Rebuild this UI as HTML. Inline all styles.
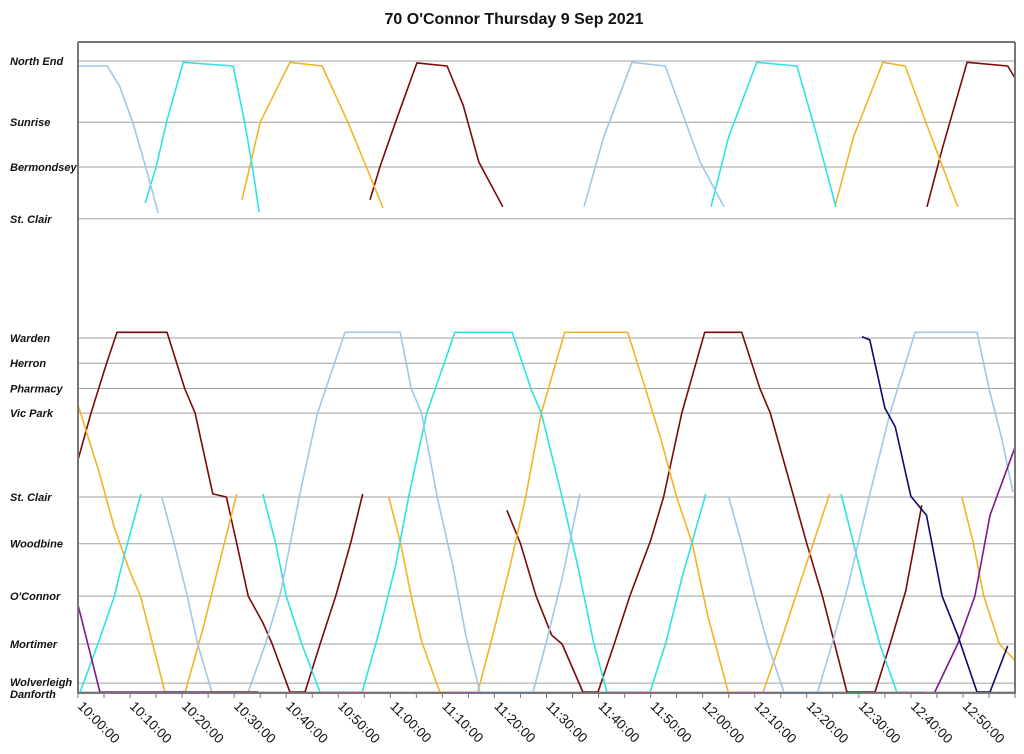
<!DOCTYPE html>
<html><head><meta charset="utf-8"><style>
html,body{margin:0;padding:0;background:#fff;}
svg{display:block;font-family:"Liberation Sans",Arial,sans-serif;}
</style></head><body>
<svg id="chart" width="1024" height="754" viewBox="0 0 1024 754">
<text x="514" y="24" text-anchor="middle" font-size="16" font-weight="bold" fill="#111">70 O'Connor Thursday 9 Sep 2021</text>
<g id="grid"></g>
<g id="ylabels"></g>
<g id="series"></g>
<g id="axes"></g>
<g id="xlabels"></g>
</svg>
<script>
const stationNames = ["North End","Sunrise","Bermondsey","St. Clair","Warden","Herron","Pharmacy","Vic Park","St. Clair","Woodbine","O'Connor","Mortimer","Wolverleigh","Danforth"];
const stationDist = [100,90.3,83.2,75.0,56.1,52.1,48.1,44.2,30.9,23.5,15.2,7.6,1.4,0];
const xTickLabels = ["10:00:00","10:10:00","10:20:00","10:30:00","10:40:00","10:50:00","11:00:00","11:10:00","11:20:00","11:30:00","11:40:00","11:50:00","12:00:00","12:10:00","12:20:00","12:30:00","12:40:00","12:50:00"];
// trips: [minutes after 10:00, distance]
const darkredTrips = [
 [[0,36.8],[2.5,44.2],[5.5,52.1],[7.5,57],[17.1,57],[20.5,48.1],[22.5,44.2],[25.9,31.4],[28.5,30.9],[30.5,23.5],[32.7,15.2],[35.5,11],[37.3,7.6],[40.7,0],[43.6,0],[46.5,7.6],[49.5,15.2],[52.5,24],[54.7,31.4]],
 [[56.1,78],[58,83.2],[61,90.3],[65.1,99.7],[70.9,99.2],[74,93],[77,84],[81.6,76.9]],
 [[82.4,28.8],[85,23.5],[88,15.2],[91,9],[93,7.6],[97.0,0],[99.9,0],[103,7.6],[106,15.2],[110,24],[112.5,30.9],[116,44.2],[120.4,57],[127.5,57],[131,48.1],[133,44.2],[137.5,30.9],[140,23.5],[143,15.2],[147.7,0],[153.1,0],[156,7.6],[159,16],[162.1,29.6]],
 [[163.1,76.9],[166,86],[170.8,99.8],[178.6,99.2],[180,97.3]]
];
const yellowTrips = [
 [[0,45.5],[4,35],[7,26],[10,19],[12,15.2],[16.7,0],[20.6,0],[24,10],[27,20],[30.5,31.4]],
 [[31.5,78],[35,90.3],[40.7,99.8],[46.9,99.2],[52,90],[55,84],[58.6,76.7]],
 [[59.7,30.9],[62,23.5],[64,15.2],[66,8],[69.5,0],[76.8,0],[80,10],[83,20],[86,30.9],[89,44.2],[93.5,57],[105.6,57],[109,48.1],[112,40],[115,30.9],[118,23.5],[121,12],[124.9,0],[131.6,0],[135,8],[139,18],[144.4,31.4]],
 [[145.4,76.9],[149,88],[154.6,99.8],[158.9,99.2],[163,90],[169.0,76.9]],
 [[169.8,30.9],[172,23.5],[174,15.2],[177,7.6],[180,5]]
];
const cyanTrips = [
 [[0.4,0],[4,8],[7,15.2],[9,22],[12.1,31.4]],
 [[12.9,77.5],[15,83.2],[17,90.3],[20.2,99.8],[29.8,99.2],[32,90.3],[33.5,83.2],[34.8,76]],
 [[35.5,31.4],[38,23.5],[40,15.2],[43,7.6],[46.5,0],[54.6,0],[58,10],[61,20],[63.5,30.9],[67,44.2],[72.4,57],[83.4,57],[87,48.1],[89,44.2],[93,30.9],[96,20],[99,8],[101.6,0],[109.9,0],[113,8],[116,18],[120.6,31.4]],
 [[121.6,76.9],[125,88],[130.4,99.8],[138.1,99.2],[142,88],[145.6,76.9]],
 [[146.6,31.4],[149,23.5],[151.5,15.2],[154,7.6],[157.3,0],[162.7,0]]
];
const lightblueTrips = [
 [[0,99.2],[5.6,99.2],[8,96],[10.5,90.3],[13,83.2],[15.4,75.9]],
 [[16.1,30.9],[18.5,23.5],[21,15.2],[23,7.6],[25.7,0],[32.7,0],[36,7.6],[39,16],[42.5,30.9],[46,44.2],[51.3,57],[61.9,57],[64,48.1],[66,44.2],[69,30.9],[72,20],[74.5,9],[77.2,0],[87.4,0],[90,8],[93,18],[96.4,31.4]],
 [[97.2,76.9],[101,88],[106.4,99.8],[112.8,99.2],[116,92],[119.5,84],[124.1,76.9]],
 [[125.0,30.9],[127.5,23.5],[130,15.2],[132.5,7.6],[135.6,0],[142.1,0],[145,8],[148,17],[152,31],[156,44.2],[160.8,57],[172.7,57],[175,48.1],[177.5,40],[179.6,31.7]]
];
const purpleTrips = [
 [[0,13.8],[4.2,0],[34.6,0]],
 [[164.6,0],[169.0,7.6],[172.3,15.2],[175.2,28],[180,38.8]]
];
const navyTrips = [
 [[150.6,56.3],[152.1,55.8],[155,45],[157,42],[160.0,31.0],[163,28],[166,15.2],[169,9],[172.7,0],[175.2,0],[178.6,7.3]]
];
const seriesList = [
 {name:"darkred", color:"#7a0a0a", trips:darkredTrips},
 {name:"yellow", color:"#f2b424", trips:yellowTrips},
 {name:"cyan", color:"#2fe3e3", trips:cyanTrips},
 {name:"lightblue", color:"#9fc7ea", trips:lightblueTrips},
 {name:"purple", color:"#7b1a8c", trips:purpleTrips},
 {name:"navy", color:"#0b0b6b", trips:navyTrips}
];
const NS="http://www.w3.org/2000/svg";
const X0=78,X1=1015,Y0=42,YB=692;
function xs(t){return X0+t*(X1-X0)/180;}
function ys(d){return YB-d*6.31;}
function mk(tag,attrs,parent){const e=document.createElementNS(NS,tag);for(const k in attrs)e.setAttribute(k,attrs[k]);parent.appendChild(e);return e;}
const grid=document.getElementById('grid'),yl=document.getElementById('ylabels'),ser=document.getElementById('series'),ax=document.getElementById('axes'),xl=document.getElementById('xlabels');
stationDist.forEach((d,i)=>{
 const y=ys(d);
 const l=mk('line',{x1:X0,x2:X1,y1:y,y2:y,stroke:'#a0a0a0','stroke-width':1},grid);
 
 
 const ty = i===13 ? y+6 : (i===12 ? y+3 : y+4);
 const t=mk('text',{x:10,y:ty,'font-size':11,'font-weight':'bold','font-style':'italic',fill:'#111'},yl);
 t.textContent=stationNames[i];
 
 
});
seriesList.forEach(s=>{
 s.trips.forEach((trip,j)=>{
  const p=mk('polyline',{points:trip.map(q=>xs(q[0]).toFixed(1)+','+ys(q[1]).toFixed(1)).join(' '),fill:'none',stroke:s.color,'stroke-width':1.6,'stroke-linejoin':'round'},ser);
  
  
 });
});
const la=mk('line',{x1:X0,x2:X0,y1:Y0,y2:YB+2,stroke:'#777','stroke-width':2},ax);


const ta=mk('line',{x1:X0,x2:X1,y1:Y0,y2:Y0,stroke:'#777','stroke-width':2},ax);


const ra=mk('line',{x1:X1,x2:X1,y1:Y0,y2:YB+2,stroke:'#777','stroke-width':2},ax);


const ba=mk('line',{x1:X0,x2:X1,y1:YB+1,y2:YB+1,stroke:'#777','stroke-width':2},ax);


for(let m=0;m<=180;m+=5){
 const tk=mk('line',{x1:xs(m),x2:xs(m),y1:YB+1,y2:YB+6,stroke:'#777','stroke-width':1},ax);
 
 
}
xTickLabels.forEach((lab,i)=>{
 const x=xs(i*10)-1,y=YB+15;
 const t=mk('text',{x:x,y:y,'font-size':13.5,fill:'#111',transform:'rotate(45 '+x+' '+y+')'},xl);
 t.textContent=lab;
 
 
});
</script>
</body></html>
